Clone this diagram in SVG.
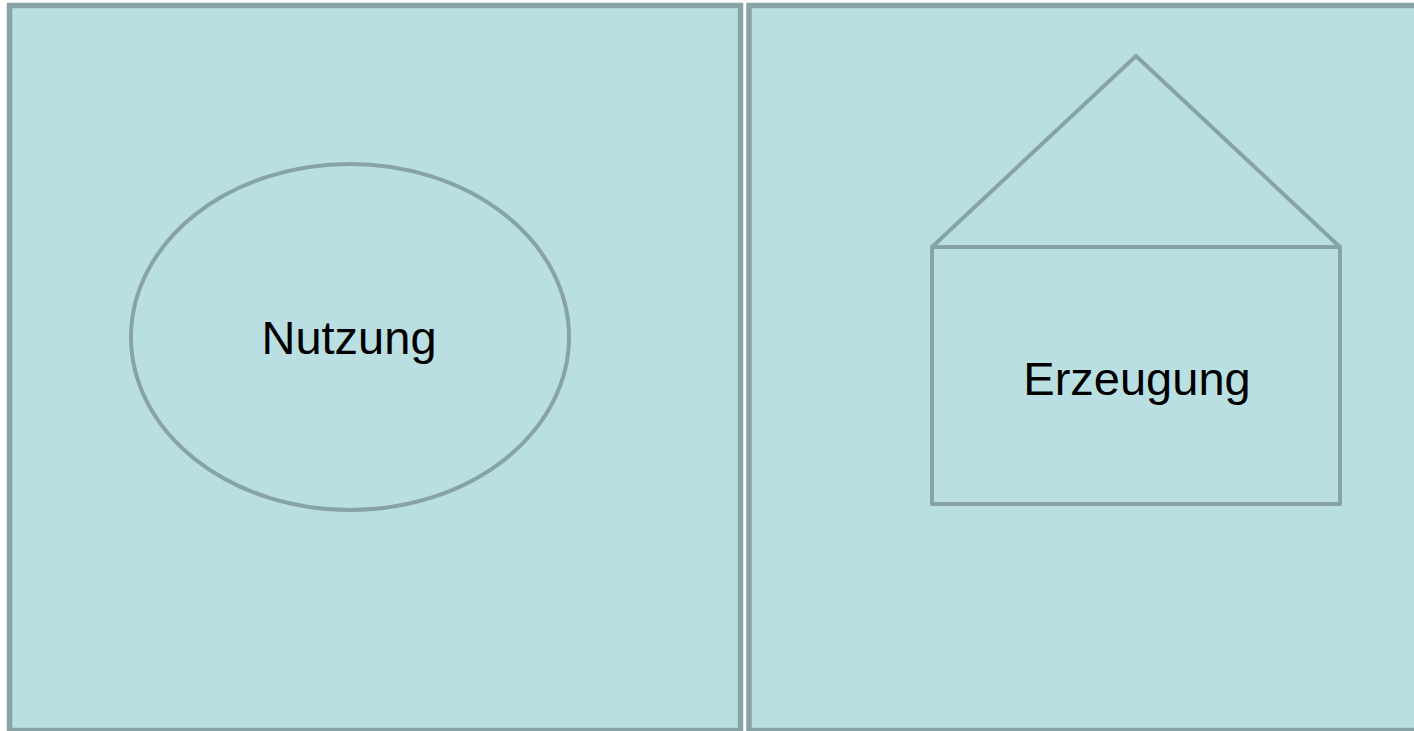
<svg xmlns="http://www.w3.org/2000/svg" width="1414" height="731" viewBox="0 0 1414 731">
<style>
.panel{fill:#b9dfe2;stroke:#88a3a6;stroke-width:5.5}
.shape{fill:none;stroke:#88a3a6;stroke-width:4;stroke-linejoin:round}
.lbl{font-family:"Liberation Sans",Arial,sans-serif;font-size:47px;fill:#000;text-anchor:middle}
</style>
<rect width="1414" height="731" fill="#ffffff"/>
<g id="panel-left"><rect class="panel" x="9.5" y="5.5" width="731" height="725"/></g>
<g id="panel-right"><rect class="panel" x="749" y="5.5" width="680" height="725"/></g>
<g id="nutzung">
<ellipse class="shape" cx="350" cy="337" rx="219" ry="173"/>
<text class="lbl" x="349" y="354">Nutzung</text>
</g>
<g id="erzeugung">
<polygon class="shape" points="1136,56 932,247 1340,247"/>
<rect class="shape" x="932" y="247" width="408" height="257"/>
<text class="lbl" x="1137" y="395">Erzeugung</text>
</g>
<g id="connectors"></g>
</svg>
